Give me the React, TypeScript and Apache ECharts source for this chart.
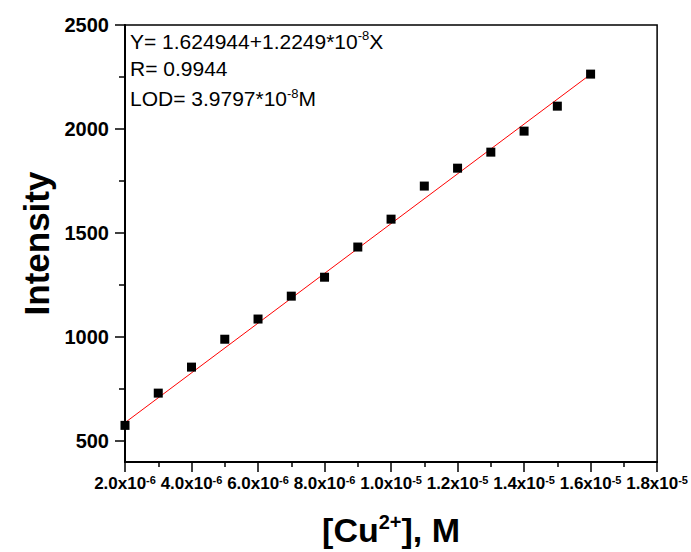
import React, { useEffect, useRef } from "react";
import * as echarts from "echarts";

const concentrations = [
  2e-6, 3e-6, 4e-6, 5e-6, 6e-6, 7e-6, 8e-6, 9e-6, 1.0e-5, 1.1e-5, 1.2e-5, 1.3e-5, 1.4e-5, 1.5e-5, 1.6e-5,
];
const intensities = [576, 731, 856, 990, 1087, 1197, 1288, 1433, 1567, 1726, 1812, 1889, 1990, 2110, 2264];
const fitX = [2e-6, 1.6e-5];
const fitY = [589, 2263];

const xMajorTicks = [2e-6, 4e-6, 6e-6, 8e-6, 1.0e-5, 1.2e-5, 1.4e-5, 1.6e-5, 1.8e-5];
const xMinorTicks = [3e-6, 5e-6, 7e-6, 9e-6, 1.1e-5, 1.3e-5, 1.5e-5, 1.7e-5];
const yMajorTicks = [500, 1000, 1500, 2000, 2500];
const yMinorTicks = [750, 1250, 1750, 2250];

const FONT = "'Liberation Sans', Arial, Helvetica, sans-serif";

export default function App() {
  const ref = useRef<HTMLDivElement>(null);
  useEffect(() => {
    if (!ref.current) return;
    const chart = echarts.init(ref.current, undefined, { renderer: "svg" });
    const xMin = 2e-6;
    const xMax = 1.8e-5;
    const yMin = 400;
    const yMax = 2500;
    const fmtX = (v: number) => {
      const parts = v.toExponential(1).split("e");
      return `{b|${parts[0]}x10}{s|${parts[1].replace("+", "")}}`;
    };
    chart.setOption({
      animation: false,
      backgroundColor: "#fff",
      grid: {
        left: 125,
        right: 33,
        top: 25,
        bottom: 90,
        show: true,
        borderColor: "#000",
        borderWidth: 1.5,
        backgroundColor: "transparent",
      },
      xAxis: [
        {
          type: "value",
          min: xMin,
          max: xMax,
          position: "bottom",
          splitLine: { show: false },
          axisLine: { show: true, onZero: false, lineStyle: { color: "#000", width: 2 } },
          axisTick: { show: true, inside: false, length: 10, lineStyle: { color: "#000", width: 1.5 }, customValues: xMajorTicks },
          axisLabel: {
            customValues: xMajorTicks,
            margin: 12,
            formatter: fmtX,
            rich: {
              b: { fontFamily: FONT, fontWeight: "bold", fontSize: 17, color: "#000", lineHeight: 19 },
              s: { fontFamily: FONT, fontWeight: "bold", fontSize: 11, color: "#000", lineHeight: 8, verticalAlign: "top" },
            },
          },
          name: "{a|[Cu}{s|2+}{a|], M}",
          nameLocation: "middle",
          nameGap: 50,
          nameTextStyle: {
            rich: {
              a: { fontFamily: FONT, fontWeight: "bold", fontSize: 34, color: "#000", lineHeight: 36 },
              s: { fontFamily: FONT, fontWeight: "bold", fontSize: 20, color: "#000", lineHeight: 14, verticalAlign: "top" },
            },
          },
        },
        {
          type: "value",
          min: xMin,
          max: xMax,
          position: "bottom",
          splitLine: { show: false },
          axisLine: { show: false, onZero: false },
          axisTick: { show: true, inside: false, length: 5, lineStyle: { color: "#000", width: 1.5 }, customValues: xMinorTicks },
          axisLabel: { show: false },
        },
      ],
      yAxis: [
        {
          type: "value",
          min: yMin,
          max: yMax,
          position: "left",
          splitLine: { show: false },
          axisLine: { show: true, onZero: false, lineStyle: { color: "#000", width: 2 } },
          axisTick: { show: true, inside: false, length: 10, lineStyle: { color: "#000", width: 1.5 }, customValues: yMajorTicks },
          axisLabel: {
            customValues: yMajorTicks,
            margin: 16,
            formatter: (v: number) => String(v),
            fontFamily: FONT,
            fontWeight: "bold",
            fontSize: 20,
            color: "#000",
          },
          name: "Intensity",
          nameLocation: "middle",
          nameGap: 62,
          nameTextStyle: { fontFamily: FONT, fontWeight: "bold", fontSize: 35, color: "#000" },
        },
        {
          type: "value",
          min: yMin,
          max: yMax,
          position: "left",
          splitLine: { show: false },
          axisLine: { show: false, onZero: false },
          axisTick: { show: true, inside: false, length: 6, lineStyle: { color: "#000", width: 1.5 }, customValues: yMinorTicks },
          axisLabel: { show: false },
        },
      ],
      graphic: [
        {
          type: "text",
          x: 130,
          y: 41,
          style: {
            text: "{a|Y= 1.624944+1.2249*10}{s|-8}{a|X}",
            verticalAlign: "middle",
            rich: {
              a: { fontFamily: FONT, fontSize: 21, fill: "#000", lineHeight: 24 },
              s: { fontFamily: FONT, fontSize: 13, fill: "#000", lineHeight: 10, verticalAlign: "top" },
            },
          },
        },
        {
          type: "text",
          x: 130,
          y: 68.5,
          style: {
            text: "R= 0.9944",
            verticalAlign: "middle",
            fontFamily: FONT,
            fontSize: 21,
            fill: "#000",
          },
        },
        {
          type: "text",
          x: 130,
          y: 98.5,
          style: {
            text: "{a|LOD= 3.9797*10}{s|-8}{a|M}",
            verticalAlign: "middle",
            rich: {
              a: { fontFamily: FONT, fontSize: 21, fill: "#000", lineHeight: 24 },
              s: { fontFamily: FONT, fontSize: 13, fill: "#000", lineHeight: 10, verticalAlign: "top" },
            },
          },
        },
      ],
      series: [
        {
          type: "line",
          xAxisIndex: 0,
          yAxisIndex: 0,
          data: fitX.map((x, i) => [x, fitY[i]]),
          showSymbol: false,
          symbol: "none",
          lineStyle: { color: "#ff0000", width: 1 },
          silent: true,
          z: 2,
        },
        {
          type: "scatter",
          xAxisIndex: 0,
          yAxisIndex: 0,
          data: concentrations.map((x, i) => [x, intensities[i]]),
          symbol: "rect",
          symbolSize: 9,
          itemStyle: { color: "#000", opacity: 1 },
          z: 3,
        },
      ],
    });
    return () => chart.dispose();
  }, []);
  return <div ref={ref} style={{ width: 691, height: 552, position: "absolute", left: 0, top: 0 }} />;
}
